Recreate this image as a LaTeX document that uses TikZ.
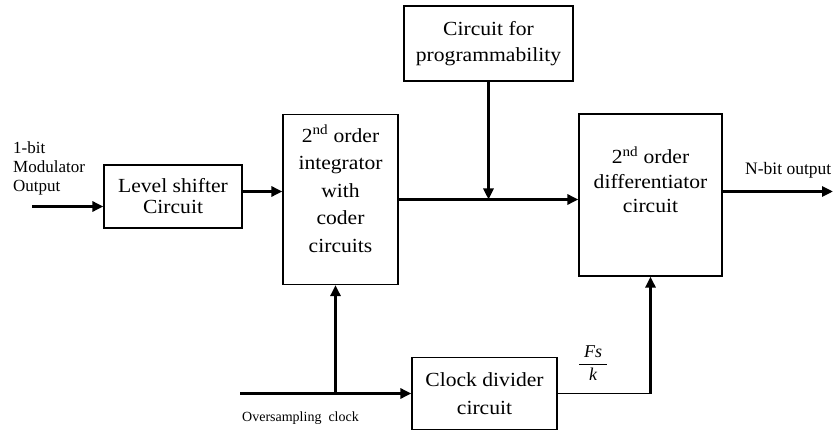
\documentclass[tikz,border=0pt]{standalone}
\usepackage{fontspec}
\setmainfont{Liberation Serif}
\newfontfamily\blockfont{Liberation Serif}[FakeStretch=1.08]
\usetikzlibrary{arrows.meta}

\begin{document}
\begin{tikzpicture}[x=1pt, y=-1pt,
  block/.style={draw, line width=1.2pt, inner sep=0pt, align=center, font=\blockfont\fontsize{20}{26}\selectfont},
  blocktext/.style={anchor=north, align=center, inner sep=0pt},
  sig/.style={line width=2.8pt, -{Triangle[length=11pt,width=10pt]}},
  lbl/.style={inner sep=0pt, font=\fontsize{17}{19}\selectfont}]
% Page size, measured in points from the top left corner
\useasboundingbox (0,0) rectangle (834,430);

% Draw the blocks
\node[block, minimum width=138pt, minimum height=63pt, font=\blockfont\fontsize{20}{21}\selectfont] (shifter) at (173,196.5) {Level shifter\\Circuit};
\node[block, minimum width=115pt, minimum height=170pt] (integ) at (340.5,199.5) {};
\node[block, minimum width=169pt, minimum height=75pt] (prog) at (488.5,43.5) {Circuit for\\programmability};
\node[block, minimum width=143pt, minimum height=162pt] (diff) at (650.5,195) {};
\node[block, minimum width=145pt, minimum height=72pt, font=\blockfont\fontsize{20}{28}\selectfont] (clkdiv) at (484.5,393.5) {Clock divider\\circuit};

% Text of the two tall blocks sits near their top
\node[blocktext, font=\blockfont\fontsize{20}{27.5}\selectfont] (integ-txt) at ([yshift=-11pt]integ.north) {2\textsuperscript{nd} order\\integrator\\with\\coder\\circuits};
\node[blocktext, font=\blockfont\fontsize{20}{24.5}\selectfont] (diff-txt) at ([yshift=-33pt]diff.north) {2\textsuperscript{nd} order\\differentiator\\circuit};

% Outside labels
\node[lbl, anchor=north west, align=left] (mod-lbl) at (13,142) {1-bit\\Modulator\\Output};
\node[lbl, anchor=base west, font=\fontsize{17.5}{20}\selectfont] (nbit-lbl) at (745,175) {N-bit output};
\node[lbl, anchor=base west, font=\fontsize{14}{16}\selectfont] (clk-lbl) at (242,421) {Oversampling\ \ clock};
\node[lbl, font=\fontsize{18}{20}\selectfont] (rate-lbl) at (593,363) {$\displaystyle\frac{\;\textit{Fs}\;}{\textit{k}}$};

% Connectors
\coordinate (in) at (32,206.5);
\coordinate (clk) at (240,393.5);
\coordinate (out) at (833,191.5);
\coordinate (shifter-out) at ([yshift=5pt]shifter.east);
\coordinate (integ-clk) at ([xshift=-5pt]integ.south);

\draw[sig] (in) -- (shifter.west |- in);
\draw[sig] (shifter-out) -- (integ.west |- shifter-out);
\draw[sig] (integ.east) -- (diff.west |- integ.east);
\draw[sig] (prog.south) -- (prog.south |- integ.east);
\draw[sig] (diff.east |- out) -- (out);
\draw[sig] (clk) -- (clkdiv.west);
\draw[sig] (integ-clk |- clk) -- (integ-clk);
\draw[line width=1.2pt] (clkdiv.east) -- (diff.south |- clkdiv.east);
\draw[sig] (diff.south |- clkdiv.east) -- (diff.south);
\end{tikzpicture}
\end{document}
